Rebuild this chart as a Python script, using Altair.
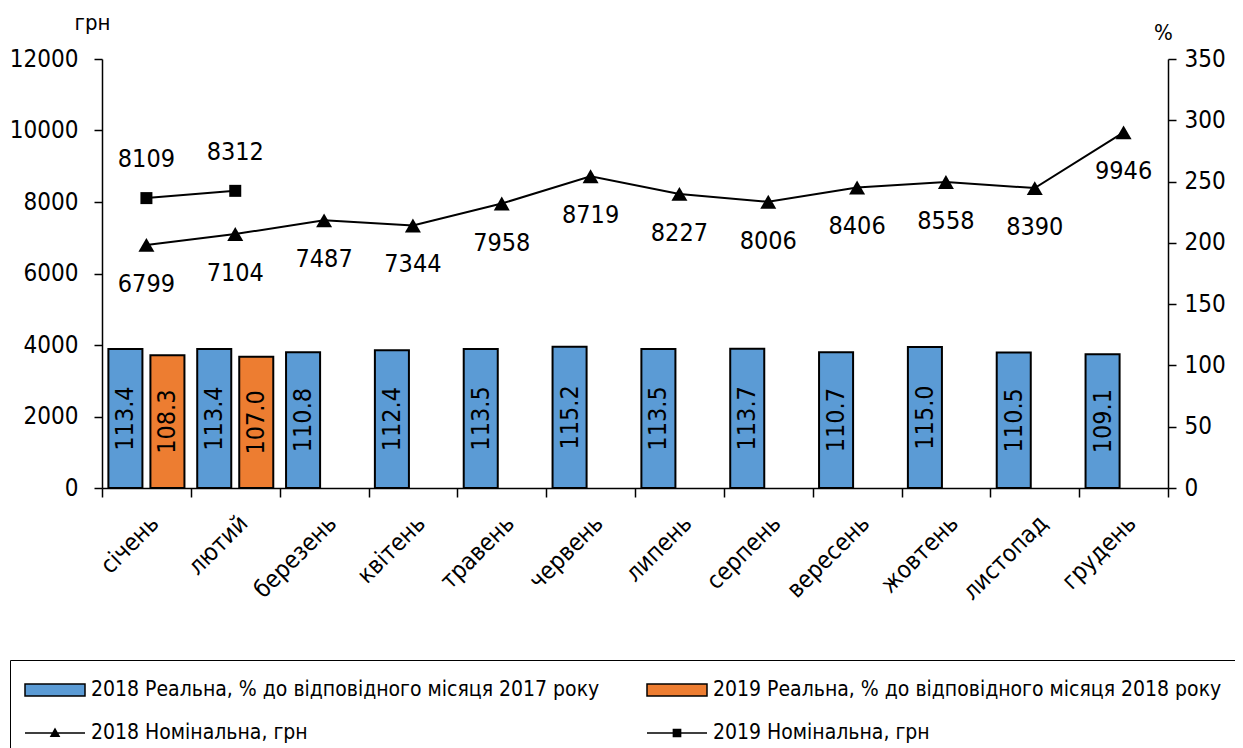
import altair as alt
import pandas as pd

months = ["січень", "лютий", "березень", "квітень", "травень", "червень",
          "липень", "серпень", "вересень", "жовтень", "листопад", "грудень"]
real_2018 = [113.4, 113.4, 110.8, 112.4, 113.5, 115.2, 113.5, 113.7, 110.7, 115.0, 110.5, 109.1]
real_2019 = [108.3, 107.0]
nom_2018 = [6799, 7104, 7487, 7344, 7958, 8719, 8227, 8006, 8406, 8558, 8390, 9946]
nom_2019 = [8109, 8312]
left_ticks = [0, 2000, 4000, 6000, 8000, 10000, 12000]
right_ticks = [0, 50, 100, 150, 200, 250, 300, 350]
years = ["2018", "2019"]
legend_labels = [
    "2018 Реальна, % до відповідного місяця 2017 року",
    "2019 Реальна, % до відповідного місяця 2018 року",
    "2018 Номінальна, грн",
    "2019 Номінальна, грн",
]

BLUE = "#5B9BD5"
ORANGE = "#ED7D31"
FONT = "DejaVu Sans Condensed, Liberation Sans Narrow, sans-serif"

bars_df = pd.DataFrame({
    "month": months + months[:len(real_2019)],
    "year": ["2018"] * len(real_2018) + ["2019"] * len(real_2019),
    "value": real_2018 + real_2019,
})
bars_df["mid"] = bars_df["value"] / 2
bars_df["label"] = bars_df["value"].map(lambda v: f"{v:.1f}")

n18 = pd.DataFrame({"month": months, "value": nom_2018})
n19 = pd.DataFrame({"month": months[:len(nom_2019)], "value": nom_2019})
leg_df = pd.DataFrame({"series": legend_labels, "month": [months[0]] * 4, "value": [None] * 4})

W, H = 1066, 429

xscale = alt.Scale(domain=months, paddingInner=0, paddingOuter=0)
yr = alt.Scale(domain=[0, 350], nice=False)
yl = alt.Scale(domain=[0, 12000], nice=False)
xoff = alt.XOffset("year:N", scale=alt.Scale(domain=years, paddingInner=0.19, paddingOuter=0.152))

axis_common = dict(domainColor="black", domainWidth=1.5, tickColor="black", tickWidth=1.5,
                   labelFont=FONT, labelColor="black", grid=False)

x_axis = alt.Axis(orient="bottom", tickBand="extent", tickSize=9, title=None, labelAngle=315,
                  labelPadding=14, labelFontSize=24, **axis_common)


def xenc():
    return alt.X("month:N", sort=months, scale=xscale, axis=x_axis)


bars = alt.Chart(bars_df).mark_bar(stroke="black", strokeWidth=2).encode(
    x=xenc(),
    xOffset=xoff,
    y=alt.Y("value:Q", scale=yr,
            axis=alt.Axis(orient="right", values=right_ticks, title="%", titleAngle=0,
                          titleX=-5, titleY=-27, titleAlign="center", titleBaseline="middle",
                          titleFont=FONT, titleFontSize=22, titleFontWeight="normal",
                          titleColor="black", tickSize=8, labelFontSize=24, labelPadding=8,
                          **axis_common)),
    color=alt.Color("year:N", scale=alt.Scale(domain=years, range=[BLUE, ORANGE]), legend=None),
)
bar_text = alt.Chart(bars_df).mark_text(angle=270, font=FONT, fontSize=25, color="black",
                                        align="center", baseline="middle").encode(
    x=xenc(),
    xOffset=xoff,
    y=alt.Y("mid:Q", scale=yr, axis=None),
    text="label:N",
)

line18 = alt.Chart(n18).mark_line(color="black", strokeWidth=2).encode(
    x=xenc(),
    y=alt.Y("value:Q", scale=yl,
            axis=alt.Axis(orient="left", values=left_ticks, format="d", title="грн", titleAngle=0,
                          titleX=-10, titleY=-37, titleAlign="center", titleBaseline="middle",
                          titleFont=FONT, titleFontSize=22, titleFontWeight="normal",
                          titleColor="black", tickSize=8, labelFontSize=24, labelPadding=16,
                          **axis_common)),
)
pts18 = alt.Chart(n18).mark_point(shape="triangle-up", filled=True, size=256, color="black",
                                  opacity=1).encode(
    x=xenc(), y=alt.Y("value:Q", scale=yl, axis=None),
)
lab18 = alt.Chart(n18).mark_text(font=FONT, fontSize=25, color="black", dy=39).encode(
    x=xenc(), y=alt.Y("value:Q", scale=yl, axis=None), text="value:Q",
)
line19 = alt.Chart(n19).mark_line(color="black", strokeWidth=2).encode(
    x=xenc(), y=alt.Y("value:Q", scale=yl, axis=None),
)
pts19 = alt.Chart(n19).mark_point(shape="square", filled=True, size=144, color="black",
                                  opacity=1).encode(
    x=xenc(), y=alt.Y("value:Q", scale=yl, axis=None),
)
lab19 = alt.Chart(n19).mark_text(font=FONT, fontSize=25, color="black", dy=-39).encode(
    x=xenc(), y=alt.Y("value:Q", scale=yl, axis=None), text="value:Q",
)

shape_range = [
    "M-1,-0.4H3V0.4H-1Z",
    "M-1,-0.4H3V0.4H-1Z",
    "M-1,0H3M0.73,0.22L1,-0.26L1.27,0.22Z",
    "M-1,0H3M0.76,-0.24H1.24V0.24H0.76Z",
]
legend = alt.Legend(orient="none", legendX=-92, legendY=601, columns=2, direction="horizontal",
                    title=None, strokeColor="black", padding=14, symbolSize=900,
                    symbolStrokeWidth=1.5, labelFont=FONT, labelFontSize=21, labelColor="black",
                    labelOffset=35, labelLimit=800, columnPadding=44, rowPadding=17,
                    symbolOpacity=1)
leg = alt.Chart(leg_df).mark_point(filled=True, stroke="black", strokeWidth=1.5).encode(
    x=xenc(),
    y=alt.Y("value:Q", scale=yl, axis=None),
    fill=alt.Fill("series:N", sort=legend_labels,
                  scale=alt.Scale(domain=legend_labels, range=[BLUE, ORANGE, "black", "black"]),
                  legend=legend),
    shape=alt.Shape("series:N", sort=legend_labels,
                    scale=alt.Scale(domain=legend_labels, range=shape_range),
                    legend=legend),
)

chart = alt.layer(line18, bars, bar_text, pts18, lab18, line19, pts19, lab19, leg).resolve_scale(
    y="independent"
).properties(
    width=W, height=H,
    autosize=alt.AutoSizeParams(type="none"),
    padding={"left": 94, "top": 51, "right": 67, "bottom": 260},
).configure_view(stroke=None)

chart.save("out.html", embed_options={"renderer": "svg", "actions": False})
